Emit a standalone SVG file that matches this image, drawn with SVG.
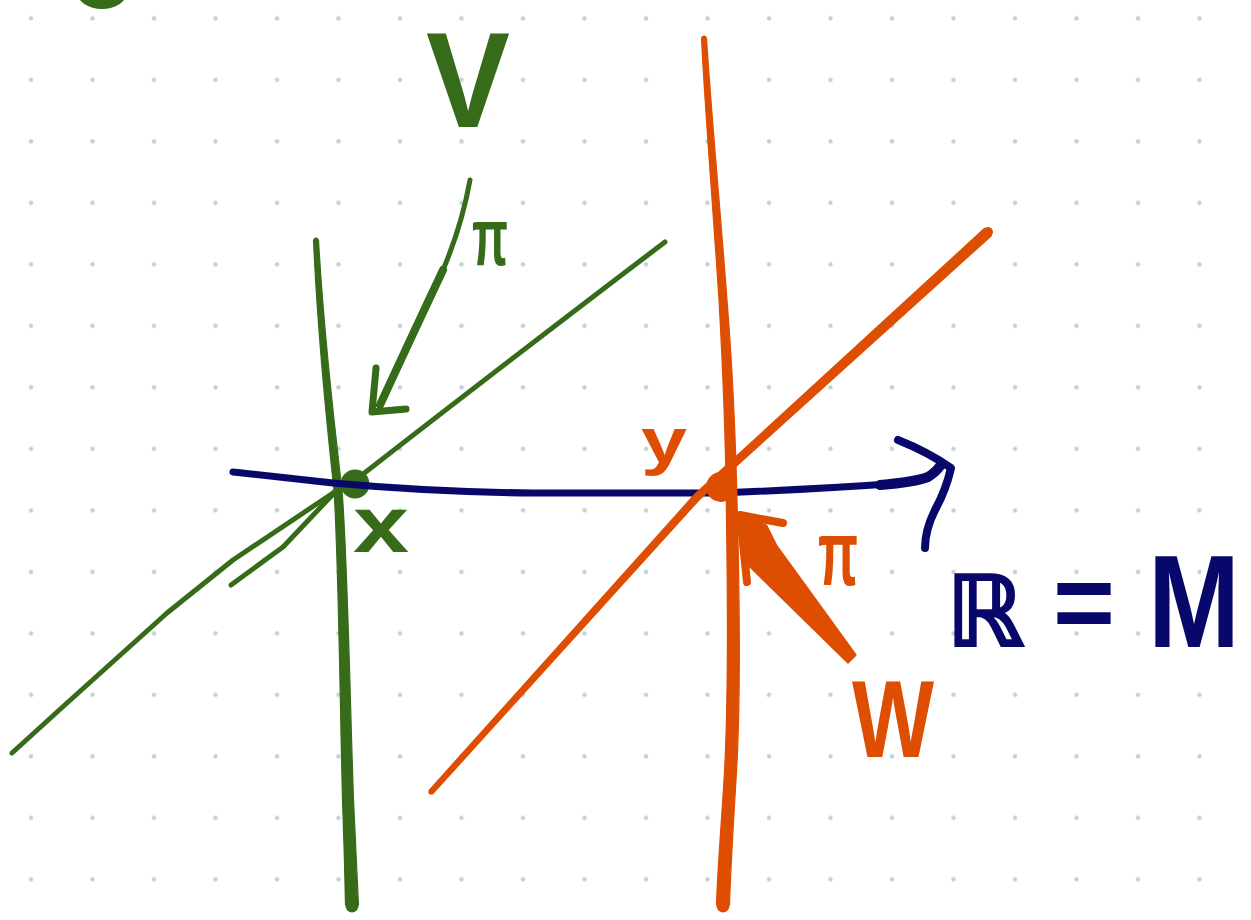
<svg xmlns="http://www.w3.org/2000/svg" width="1251" height="920" viewBox="0 0 1251 920">
  <style>
    .g { stroke: #366B1A; fill: none; stroke-linecap: round; stroke-linejoin: round; }
    .o { stroke: #DE4E02; fill: none; stroke-linecap: round; stroke-linejoin: round; }
    .n { stroke: #08086B; fill: none; stroke-linecap: round; stroke-linejoin: round; }
    .gf { fill: #366B1A; stroke: #366B1A; stroke-width: 1.2; stroke-linejoin: round; }
    .of { fill: #DE4E02; stroke: #DE4E02; stroke-width: 1.2; stroke-linejoin: round; }
    .gt { fill: #366B1A; font-family: "Liberation Sans", Arial, sans-serif; font-weight: bold; }
    .ot { fill: #DE4E02; font-family: "Liberation Sans", Arial, sans-serif; font-weight: bold; }
    .nt { fill: #08086B; font-family: "Liberation Sans", Arial, sans-serif; font-weight: bold; }
  </style>
  <defs>
    <pattern id="dots" patternUnits="userSpaceOnUse" x="0" y="0" width="61.5" height="61.5">
      <circle cx="31" cy="18.3" r="2.2" fill="#BCD3D3"/>
    </pattern>
  </defs>
  <rect width="1251" height="920" fill="#FFFFFF"/>
  <rect width="1251" height="920" fill="url(#dots)"/>

  <g id="top-blob">
    <ellipse cx="102" cy="-8" rx="25" ry="17" fill="#366B1A"/>
  </g>

  <g id="space-V">
    <!-- green vertical (tapered) -->
    <path class="gf" d="M313.5,240 C317,320 326.3,420 334,490 C338.5,560 340,700 342.5,800 C344.3,850 345,880 345.5,905 L358.5,905 C357,880 356,850 353.5,800 C350,700 347.5,560 342,490 C333.7,420 323,320 318.5,240 Z"/>
    <circle cx="352" cy="906" r="6.5" fill="#366B1A"/>
    <circle cx="316" cy="240" r="2.6" fill="#366B1A"/>
    <!-- green diagonal -->
    <path class="g" stroke-width="5" d="M665,242 Q520,352 358,478 L333,493 L233,560 L167,613 L67,703 L12,753"/>
    <!-- second short green line -->
    <path class="g" stroke-width="5" d="M337,490 L283,547 L231,585"/>
    <circle id="point-x" cx="355" cy="484" r="14.5" fill="#366B1A"/>
    <text class="gt" x="381" y="552" font-size="80" text-anchor="middle" textLength="56" lengthAdjust="spacingAndGlyphs">x</text>
    <text class="gt" x="468" y="127" font-size="135" text-anchor="middle" textLength="84" lengthAdjust="spacingAndGlyphs">V</text>
    <!-- green arrow -->
    <path class="g" stroke-width="5" d="M470,180 Q462,225 443,270"/>
    <path class="g" stroke-width="8" d="M443,270 Q410,340 380,405"/>
    <path class="g" stroke-width="7" d="M376,368 L372,412 L406,409"/>
    <text class="gt" x="490" y="265" font-size="82" text-anchor="middle" textLength="36" lengthAdjust="spacingAndGlyphs">π</text>
  </g>

  <g id="line-R">
    <path class="n" stroke-width="7" d="M233,472 L333,483 Q433,492 533,493 L720,493 Q820,489 903,483"/>
    <path class="n" stroke-width="10" d="M880,485 Q915,482 928,477 Q936,472 940,466"/>
    <path class="n" stroke-width="8" d="M898,440 Q928,452 951,468 Q946,490 935,510 Q925,530 925,548"/>
    <text font-family="DejaVu Sans, sans-serif" font-weight="bold" fill="#08086B" stroke="#08086B" stroke-width="2" font-size="98" x="946" y="646">ℝ</text>
    <text class="nt" font-size="110" y="640" x="1084" text-anchor="middle" textLength="62" lengthAdjust="spacingAndGlyphs">=</text>
    <text class="nt" font-size="116" transform="translate(1148,647) scale(1,1.14)" x="0" y="0" textLength="92" lengthAdjust="spacingAndGlyphs">M</text>
  </g>

  <g id="space-W">
    <!-- orange vertical (tapered) -->
    <path class="of" d="M701.5,38 C705,110 712.5,200 719,300 C723.5,380 726,450 726.5,520 C728,620 727.8,720 724,780 C721,830 717.5,870 716.5,905 L729.5,905 C730.5,870 733,830 736,780 C740,720 740,620 737.5,520 C736,450 733.5,380 727,300 C719.5,200 711,110 706.5,38 Z"/>
    <circle cx="723" cy="906" r="6.5" fill="#DE4E02"/>
    <circle cx="704" cy="38" r="2.6" fill="#DE4E02"/>
    <!-- orange diagonal (tapered) -->
    <path class="of" d="M991.4,235.7 L699.5,499.5 L432.9,793.7 L429.1,790.3 L694.5,494.5 L984.6,228.3 Z"/>
    <circle cx="988" cy="232" r="5" fill="#DE4E02"/>
    <circle cx="431" cy="792" r="2.6" fill="#DE4E02"/>
    <circle id="point-y" cx="721" cy="487" r="15" fill="#DE4E02"/>
    <text class="ot" x="664" y="463" font-size="64" text-anchor="middle" textLength="46" lengthAdjust="spacingAndGlyphs">y</text>
    <!-- orange arrow -->
    <path d="M736,513 L766,526 L776,546 L855,655 L848,662 L746,562 Z" fill="#DE4E02" stroke="#DE4E02" stroke-width="3" stroke-linejoin="round"/>
    <path class="o" stroke-width="8" d="M747,582 L740,515 L783,523"/>
    <text class="ot" x="838" y="585" font-size="92" text-anchor="middle" textLength="40" lengthAdjust="spacingAndGlyphs">π</text>
    <text class="ot" x="893" y="757" font-size="110" text-anchor="middle" textLength="82" lengthAdjust="spacingAndGlyphs">W</text>
  </g>
</svg>
